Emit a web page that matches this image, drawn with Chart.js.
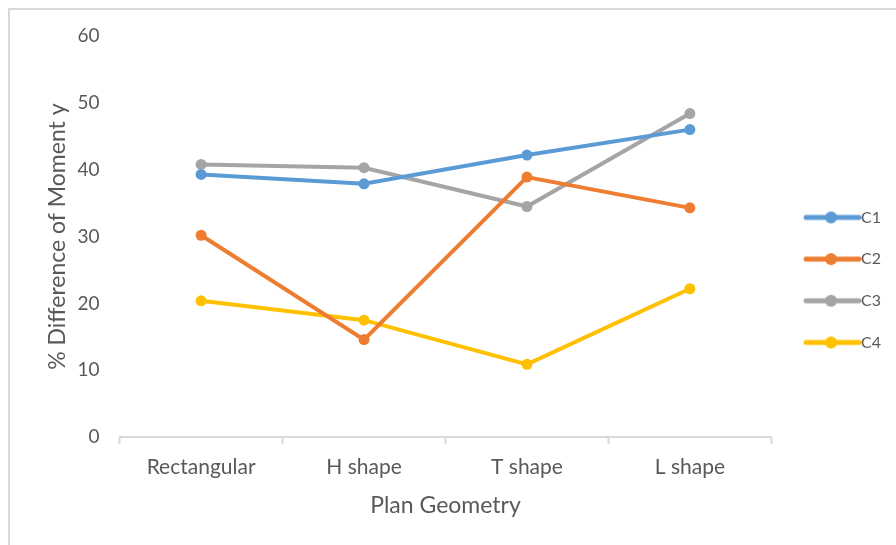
<!DOCTYPE html>
<html>
<head>
<meta charset="utf-8">
<script src="https://cdn.jsdelivr.net/npm/chart.js@4.4.1/dist/chart.umd.min.js"></script>
<style>
    body { margin: 0; background: #fff; }
    #wrap { position: relative; width: 896px; height: 545px; }
    #frame {
        position: absolute; left: 8px; top: 8px; right: 0; bottom: 0;
        border-top: 2px solid #d9d9d9; border-left: 2px solid #d9d9d9;
        pointer-events: none;
    }
</style>
</head>
<body>
<div id="wrap">
    <canvas id="momentChart" width="896" height="545"></canvas>
    <div id="frame"></div>
</div>
<script>
// plan shapes on the x axis
const categories = ['Rectangular', 'H shape', 'T shape', 'L shape'];

// % difference of moment y
const c1 = [39.3, 37.9, 42.2, 46.0];
const c2 = [30.2, 14.6, 38.9, 34.3];
const c3 = [40.8, 40.3, 34.5, 48.4];
const c4 = [20.4, 17.5, 10.9, 22.2];

const seriesNames = ['C1', 'C2', 'C3', 'C4'];
const seriesColors = ['#5b9bd5', '#ed7d31', '#a5a5a5', '#ffc000'];

const yTicks = [0, 10, 20, 30, 40, 50, 60];

const textColor = '#595959';
const fontName = 'Lato, "Open Sans", sans-serif';

// excel style legend key: a short line with a dot on it
function legendKey(color) {
    const c = document.createElement('canvas');
    c.width = 80;
    c.height = 14;
    const g = c.getContext('2d');
    g.strokeStyle = color;
    g.lineWidth = 5;
    g.lineCap = 'round';
    g.beginPath();
    g.moveTo(21, 7);
    g.lineTo(74, 7);
    g.stroke();
    g.fillStyle = color;
    g.beginPath();
    g.arc(46, 7, 6, 0, Math.PI * 2);
    g.fill();
    return c;
}

const datasets = [c1, c2, c3, c4].map((vals, i) => ({
    label: seriesNames[i],
    data: vals,
    borderColor: seriesColors[i],
    backgroundColor: seriesColors[i],
    borderWidth: 4,
    pointRadius: 5.5,
    pointHoverRadius: 5.5,
    pointBorderWidth: 0,
    tension: 0
}));

const ctx = document.getElementById('momentChart');

new Chart(ctx, {
    type: 'line',
    data: {
        labels: categories,
        datasets: datasets
    },
    options: {
        responsive: false,
        animation: false,
        layout: {
            padding: { left: 40, top: 36, right: 5, bottom: 22 }
        },
        plugins: {
            tooltip: { enabled: false },
            legend: {
                position: 'right',
                align: 'start',
                title: {
                    display: true,
                    text: '',
                    padding: { top: 0, bottom: 146.5 },
                    font: { size: 1 }
                },
                labels: {
                    usePointStyle: true,
                    pointStyleWidth: 56,
                    padding: 25.7,
                    color: textColor,
                    font: { family: fontName, size: 16 },
                    generateLabels: function(chart) {
                        return chart.data.datasets.map((ds, i) => ({
                            text: ds.label,
                            fillStyle: ds.borderColor,
                            strokeStyle: ds.borderColor,
                            lineWidth: 0,
                            pointStyle: legendKey(ds.borderColor),
                            fontColor: textColor,
                            hidden: false,
                            datasetIndex: i
                        }));
                    }
                }
            }
        },
        scales: {
            x: {
                offset: true,
                grid: {
                    offset: true,
                    drawOnChartArea: false,
                    drawTicks: true,
                    tickLength: 7,
                    tickWidth: 2,
                    color: '#d9d9d9'
                },
                border: { display: true, color: '#d9d9d9', width: 2 },
                ticks: {
                    color: textColor,
                    padding: 10,
                    font: { family: fontName, size: 21 }
                },
                title: {
                    display: true,
                    text: 'Plan Geometry',
                    color: textColor,
                    padding: { top: 2, bottom: 4 },
                    font: { family: fontName, size: 23 }
                }
            },
            y: {
                min: 0,
                max: 60,
                afterBuildTicks: function(axis) {
                    axis.ticks = yTicks.map(v => ({ value: v }));
                },
                grid: { display: false, drawTicks: false },
                border: { display: false },
                ticks: {
                    color: textColor,
                    padding: 20,
                    font: { family: fontName, size: 19 }
                },
                title: {
                    display: true,
                    text: '% Difference of Moment y',
                    color: textColor,
                    padding: { top: 4, bottom: -14 },
                    font: { family: fontName, size: 23 }
                }
            }
        }
    }
});
</script>
</body>
</html>
